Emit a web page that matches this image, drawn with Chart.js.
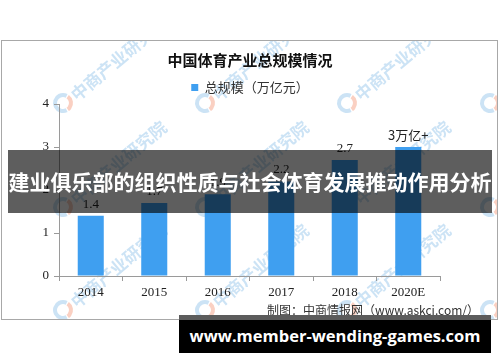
<!DOCTYPE html>
<html>
<head>
<meta charset="utf-8">
<script src="https://cdn.jsdelivr.net/npm/chart.js@4.4.0/dist/chart.umd.min.js"></script>
<style>
  html, body { margin: 0; padding: 0; background: #fff; }
  #wrap { position: relative; width: 500px; height: 362px; }
  #banner {
    position: absolute; left: 8px; top: 150px; width: 484px; height: 63px;
    background: rgba(0, 0, 0, 0.63); color: #fff;
    font: bold 21px "Noto Sans CJK SC", sans-serif; line-height: 63px;
    text-align: center; white-space: nowrap;
  }
  #site {
    position: absolute; left: 179px; top: 315px; width: 312px; height: 38px;
    background: linear-gradient(#5c5c5c 0, #5c5c5c 5px, #000 5px);
    color: #fff; font: bold 16.5px "Open Sans", sans-serif; line-height: 42px;
    text-align: center; white-space: nowrap;
  }
</style>
</head>
<body>
<div id="wrap">
  <canvas id="chart" width="500" height="362"></canvas>
  <div id="banner">建业俱乐部的组织性质与社会体育发展推动作用分析</div>
  <div id="site">www.member-wending-games.com</div>
</div>
<script>
const years = ['2014', '2015', '2016', '2017', '2018', '2020E'];
const totals = [1.4, 1.7, 1.9, 2.2, 2.7, 3.0];
const barLabels = ['1.4', '1.7', '1.9', '2.2', '2.7', '3万亿+'];
const yTicks = [0, 1, 2, 3, 4];

const BAR_BLUE = '#3f9ff0';
const AXIS_GREY = '#9a9a9a';

// frame, watermark and source line, all in canvas space
const decor = {
  id: 'decor',
  beforeDraw(chart) {
    const ctx = chart.ctx;
    ctx.save();
    ctx.beginPath();
    ctx.rect(1, 40, 497, 280);
    ctx.clip();
    const cols = [63, 205, 347, 490];
    const rows = [103, 207, 310];
    rows.forEach(y0 => cols.forEach(x0 => {
      ctx.lineWidth = 4;
      ctx.strokeStyle = 'rgba(110,175,225,0.35)';
      ctx.beginPath();
      ctx.arc(x0, y0, 8, Math.PI * 0.35, Math.PI * 1.65);
      ctx.stroke();
      ctx.strokeStyle = 'rgba(240,120,80,0.35)';
      ctx.beginPath();
      ctx.arc(x0, y0, 8, -Math.PI * 0.3, Math.PI * 0.3);
      ctx.stroke();
      ctx.save();
      ctx.translate(x0 + 10, y0 - 6);
      ctx.rotate(-40 * Math.PI / 180);
      ctx.fillStyle = 'rgba(110,175,225,0.35)';
      ctx.font = 'bold 17px "Noto Sans CJK SC"';
      ctx.textBaseline = 'middle';
      ctx.fillText('中商产业研究院', 0, 0);
      ctx.restore();
    }));
    ctx.restore();

    ctx.save();
    ctx.strokeStyle = '#a8a8a8';
    ctx.lineWidth = 1;
    ctx.strokeRect(1.5, 40.5, 496, 279);
    ctx.fillStyle = '#333';
    ctx.font = '12px "Noto Sans CJK SC"';
    ctx.textAlign = 'right';
    ctx.textBaseline = 'middle';
    ctx.fillText('制图：中商情报网（www.askci.com/）', 479, 310);
    ctx.restore();
  },
  afterDatasetsDraw(chart) {
    const ctx = chart.ctx;
    const bars = chart.getDatasetMeta(0).data;
    ctx.save();
    ctx.fillStyle = '#222';
    ctx.textAlign = 'center';
    ctx.textBaseline = 'bottom';
    bars.forEach((bar, i) => {
      const txt = barLabels[i];
      ctx.font = /万/.test(txt) ? '13px "Noto Sans CJK SC"' : '13px "Liberation Serif"';
      ctx.fillText(txt, bar.x, bar.y - 5);
    });
    ctx.restore();
  }
};

new Chart(document.getElementById('chart'), {
  type: 'bar',
  data: {
    labels: years,
    datasets: [{
      label: '总规模（万亿元）',
      data: totals,
      backgroundColor: BAR_BLUE,
      categoryPercentage: 1,
      barPercentage: 0.41
    }]
  },
  options: {
    responsive: false,
    animation: false,
    layout: { padding: 0 },
    plugins: {
      title: {
        display: true,
        text: '中国体育产业总规模情况',
        color: '#111',
        font: { family: '"Noto Sans CJK SC"', size: 15, weight: 'bold', lineHeight: 1.2 },
        padding: { top: 51, bottom: 6 }
      },
      legend: {
        display: true,
        labels: {
          boxWidth: 7,
          boxHeight: 7,
          padding: 6,
          color: '#333',
          font: { family: '"Noto Sans CJK SC"', size: 13 }
        }
      },
      tooltip: { enabled: false }
    },
    scales: {
      x: {
        grid: { drawOnChartArea: false, drawTicks: true, tickLength: 5, color: AXIS_GREY },
        border: { color: AXIS_GREY },
        ticks: { color: '#222', padding: 4, font: { family: '"Liberation Serif"', size: 13 } },
        afterFit(scale) { scale.height = 86; }
      },
      y: {
        min: yTicks[0],
        max: yTicks[yTicks.length - 1],
        afterBuildTicks(scale) { scale.ticks = yTicks.map(v => ({ value: v })); },
        grid: { drawOnChartArea: false, drawTicks: true, tickLength: 5, color: AXIS_GREY },
        border: { color: AXIS_GREY },
        ticks: { color: '#222', padding: 5, font: { family: '"Liberation Serif"', size: 13 } },
        afterFit(scale) { scale.width = 59; }
      },
      // empty right-hand gutter so the title and legend stay centred on the canvas
      gutter: {
        position: 'right',
        min: yTicks[0],
        max: yTicks[yTicks.length - 1],
        grid: { display: false },
        border: { display: false },
        ticks: { display: false },
        afterFit(scale) { scale.width = 60; }
      }
    }
  },
  plugins: [decor]
});
</script>
</body>
</html>
